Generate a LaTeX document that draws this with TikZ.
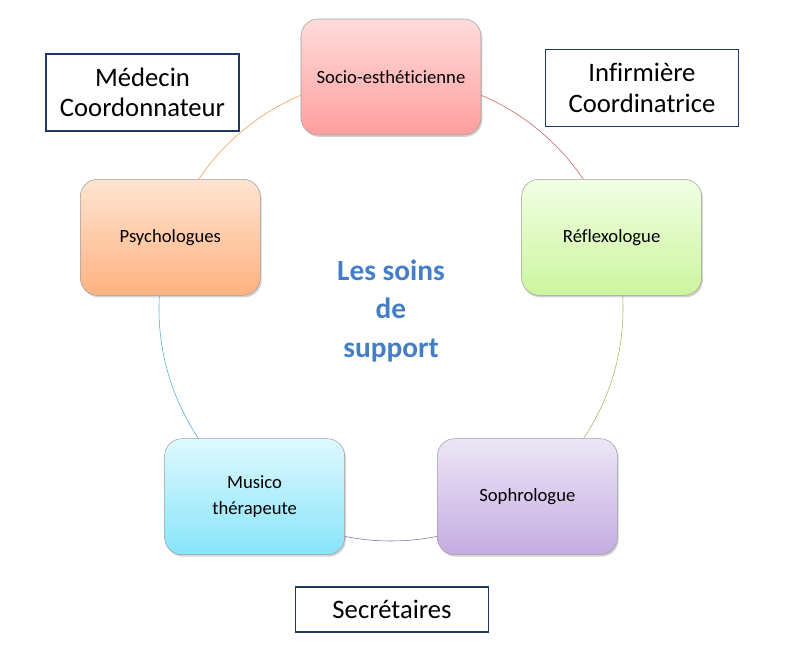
\documentclass[tikz,border=0pt]{standalone}
\usepackage{fontspec}
\setmainfont{Carlito}[Ligatures = NoCommon]
\usetikzlibrary{positioning, shadows, backgrounds}
\definecolor{sociotop}{RGB}{255, 220, 220}
\definecolor{sociobot}{RGB}{255, 158, 158}
\definecolor{reflextop}{RGB}{242, 255, 228}
\definecolor{reflexbot}{RGB}{204, 245, 158}
\definecolor{sophrotop}{RGB}{237, 230, 246}
\definecolor{sophrobot}{RGB}{196, 172, 226}
\definecolor{musicotop}{RGB}{222, 249, 255}
\definecolor{musicobot}{RGB}{136, 228, 250}
\definecolor{psychotop}{RGB}{255, 228, 210}
\definecolor{psychobot}{RGB}{255, 178, 128}
\definecolor{socioline}{RGB}{200, 90, 90}
\definecolor{reflexline}{RGB}{155, 187, 89}
\definecolor{sophroline}{RGB}{128, 100, 162}
\definecolor{musicoline}{RGB}{75, 172, 198}
\definecolor{psycholine}{RGB}{247, 150, 70}
\definecolor{staffblue}{RGB}{31, 56, 100}
\definecolor{titleblue}{RGB}{68, 126, 198}

\begin{document}
\begin{tikzpicture}[x = 0.75pt, y = 0.75pt,
  role/.style={draw = gray!75, rounded corners = 13pt, minimum width = 135pt, minimum height = 87pt, align = center, font = \fontsize{14}{20}\selectfont, drop shadow = {shadow xshift = 1pt, shadow yshift = -1.5pt, opacity = 0.35}},
  staff/.style={draw = staffblue, line width = 1.1pt, fill = white, minimum width = 145pt, align = center, font = \fontsize{20}{23}\selectfont}]
  \useasboundingbox (-391, -355) rectangle (415, 309);

  % circle of roles
  \node [role, top color = sociotop, bottom color = sociobot] (socio) at (90:232) {Socio-esthéticienne};
  \node [role, top color = reflextop, bottom color = reflexbot] (reflex) at (18:232) {Réflexologue};
  \node [role, top color = sophrotop, bottom color = sophrobot] (sophro) at (-54:232) {Sophrologue};
  \node [role, top color = musicotop, bottom color = musicobot] (musico) at (-126:232) {Musico\\thérapeute};
  \node [role, top color = psychotop, bottom color = psychobot] (psycho) at (162:232) {Psychologues};

  % centre
  \node [font = \bfseries\fontsize{22}{29}\selectfont, text = titleblue, align = center] (title) at (0, -2) {Les soins\\de\\support};

  % staff
  \node [staff, minimum height = 58pt] (medecin) at (-248.5, 216.5) {Médecin\\Coordonnateur};
  \node [staff, minimum height = 58pt] (infirmiere) at (251, 221) {Infirmière\\Coordinatrice};
  \node [staff, minimum height = 34pt] (secretaires) at (1, -300.5) {Secrétaires};

  % edges
  \begin{scope}[on background layer, line width = 1pt]
    \draw [socioline] (socio.center) arc [start angle = 90, end angle = 18, radius = 232];
    \draw [reflexline] (reflex.center) arc [start angle = 18, end angle = -54, radius = 232];
    \draw [sophroline] (sophro.center) arc [start angle = -54, end angle = -126, radius = 232];
    \draw [musicoline] (musico.center) arc [start angle = -126, end angle = -198, radius = 232];
    \draw [psycholine] (psycho.center) arc [start angle = 162, end angle = 90, radius = 232];
  \end{scope}
\end{tikzpicture}
\end{document}
